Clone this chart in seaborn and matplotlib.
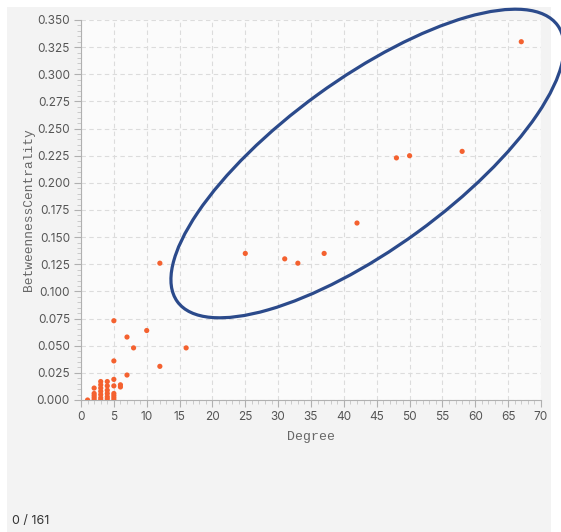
import matplotlib
matplotlib.use("Agg")
import matplotlib.pyplot as plt
from matplotlib.patches import Ellipse, Rectangle
from matplotlib.ticker import MultipleLocator
from matplotlib.transforms import IdentityTransform
import pandas as pd
import seaborn as sns

# node degree vs betweenness centrality
degree = [67, 58, 50, 48, 42, 37, 33, 31, 25, 12,
          16, 12, 10, 8, 7, 7,
          5, 5, 5, 5, 5, 5, 5, 5,
          6, 6,
          4, 4, 4, 4, 4, 4,
          3, 3, 3, 3, 3, 3, 3,
          2, 2, 2, 2, 2,
          1]
betweenness = [0.330, 0.229, 0.225, 0.223, 0.163, 0.135, 0.126, 0.130, 0.135, 0.126,
               0.048, 0.031, 0.064, 0.048, 0.058, 0.023,
               0.073, 0.036, 0.019, 0.013, 0.006, 0.004, 0.002, 0.000,
               0.014, 0.012,
               0.017, 0.013, 0.009, 0.006, 0.003, 0.001,
               0.017, 0.014, 0.011, 0.008, 0.005, 0.002, 0.000,
               0.011, 0.006, 0.004, 0.002, 0.000,
               0.000]
total_nodes = 161
selected = 0

df = pd.DataFrame({"Degree": degree, "BetweennessCentrality": betweenness})

sns.set_style("white")
plt.rcParams["font.family"] = ["Inter", "DejaVu Sans"]

fig = plt.figure(figsize=(5.61, 5.32), dpi=100, facecolor="white")
fig.patches.append(Rectangle((7 / 561, 0), 544 / 561, 525 / 532,
                             transform=fig.transFigure, facecolor="#f3f3f3",
                             edgecolor="none", zorder=-10))
ax = fig.add_axes([81 / 561, 132 / 532, 460 / 561, 380 / 532])
ax.set_facecolor("#fbfbfb")

sns.scatterplot(data=df, x="Degree", y="BetweennessCentrality", ax=ax,
                color="#f4612f", s=14, edgecolor="none", zorder=3)

ax.set_xlim(0, 70)
ax.set_ylim(0, 0.35)
ax.xaxis.set_major_locator(MultipleLocator(5))
ax.xaxis.set_minor_locator(MultipleLocator(1))
ax.yaxis.set_major_locator(MultipleLocator(0.025))
ax.yaxis.set_minor_locator(MultipleLocator(0.005))
ax.yaxis.set_major_formatter(matplotlib.ticker.FormatStrFormatter("%.3f"))

ax.grid(True, which="major", color="#dcdcdc", linestyle=(0, (4, 3)), linewidth=0.8)
ax.set_axisbelow(True)

for side in ["top", "right"]:
    ax.spines[side].set_visible(False)
for side in ["left", "bottom"]:
    ax.spines[side].set_color("#b0b0b0")
    ax.spines[side].set_linewidth(0.8)

ax.tick_params(which="major", length=5, width=0.8, color="#b0b0b0",
               labelsize=8.5, labelcolor="#555555", pad=3,
               bottom=True, left=True)
ax.tick_params(which="minor", length=3, width=0.6, color="#c4c4c4",
               bottom=True, left=True)

ax.set_xlabel("Degree", family="Liberation Mono", fontsize=9.5, color="#666666", labelpad=6)
ax.set_ylabel("BetweennessCentrality", family="Liberation Mono", fontsize=9.3,
              color="#666666", labelpad=1.5)

# hand-drawn highlight around the high-degree nodes (in pixels)
fig.patches.append(Ellipse((367.5, 532 - 163.5), 470, 170, angle=36,
                           transform=IdentityTransform(), fill=False,
                           edgecolor="#2b4a8b", linewidth=2.3, zorder=5))

fig.text(12 / 561, 5 / 532, f"{selected} / {total_nodes}", fontsize=9,
         color="#333333", ha="left", va="bottom")

fig.savefig("out.png", dpi=100, facecolor=fig.get_facecolor())
